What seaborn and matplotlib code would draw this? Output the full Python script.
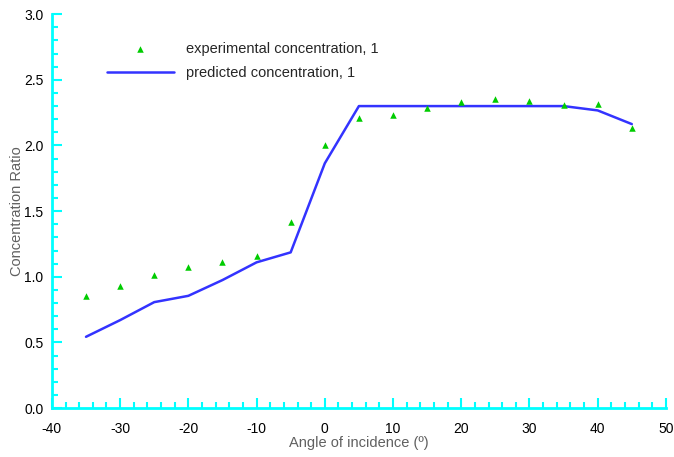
import numpy as np
import pandas as pd
import seaborn as sns
import matplotlib.pyplot as plt
from matplotlib.ticker import MultipleLocator

# angles (degrees)
angle = [-35, -30, -25, -20, -15, -10, -5, 0, 5, 10, 15, 20, 25, 30, 35, 40, 45]
# measured ratios
experimental = [0.855, 0.93, 1.015, 1.076, 1.114, 1.158, 1.419, 2.005, 2.21, 2.229,
                2.285, 2.333, 2.351, 2.336, 2.31, 2.313, 2.13]
# model ratios
predicted = [0.543, 0.67, 0.807, 0.855, 0.975, 1.11, 1.186, 1.864, 2.30, 2.30,
             2.30, 2.30, 2.30, 2.30, 2.30, 2.267, 2.163]

df = pd.DataFrame({'angle': angle, 'exp': experimental, 'pred': predicted})

sns.set_style('white')
plt.rcParams['font.family'] = ['Liberation Sans', 'DejaVu Sans']
plt.rcParams['axes.unicode_minus'] = False

fig = plt.figure(figsize=(6.74, 4.57), dpi=100)
ax = fig.add_axes([0.077, 0.107, 0.911, 0.862])

sns.scatterplot(x='angle', y='exp', data=df, ax=ax, marker='^', color='#00cc00',
                s=22, linewidth=0, label='experimental concentration, 1', zorder=3)
sns.lineplot(x='angle', y='pred', data=df, ax=ax, color='#3333ff', linewidth=1.8,
             label='predicted concentration, 1', zorder=2)

ax.set_xlim(-40, 50)
ax.set_ylim(0, 3.0)
ax.xaxis.set_major_locator(MultipleLocator(10))
ax.xaxis.set_minor_locator(MultipleLocator(2))
ax.yaxis.set_major_locator(MultipleLocator(0.5))
ax.yaxis.set_minor_locator(MultipleLocator(0.1))
ax.yaxis.set_major_formatter(plt.FormatStrFormatter('%.1f'))

for s in ['top', 'right']:
    ax.spines[s].set_visible(False)
for s in ['left', 'bottom']:
    ax.spines[s].set_color('#00ffff')
    ax.spines[s].set_linewidth(2)

ax.tick_params(which='both', direction='in', color='#00ffff', width=1.5,
               labelsize=10, labelcolor='black')
ax.tick_params(which='major', length=7)
ax.tick_params(which='minor', length=4)
ax.tick_params(axis='x', which='both', bottom=True, pad=10)
ax.tick_params(axis='y', which='both', left=True, pad=6)

ax.set_xlabel('Angle of incidence (º)', color='#606060', fontsize=10.5, labelpad=0)
ax.set_ylabel('Concentration Ratio', color='#606060', fontsize=10.5, labelpad=0)

ax.legend(loc='upper left', bbox_to_anchor=(0.068, 0.962), frameon=False,
          fontsize=10.5, handlelength=4.6, handletextpad=0.85, labelspacing=0.65)

fig.savefig('out.png', dpi=100)
